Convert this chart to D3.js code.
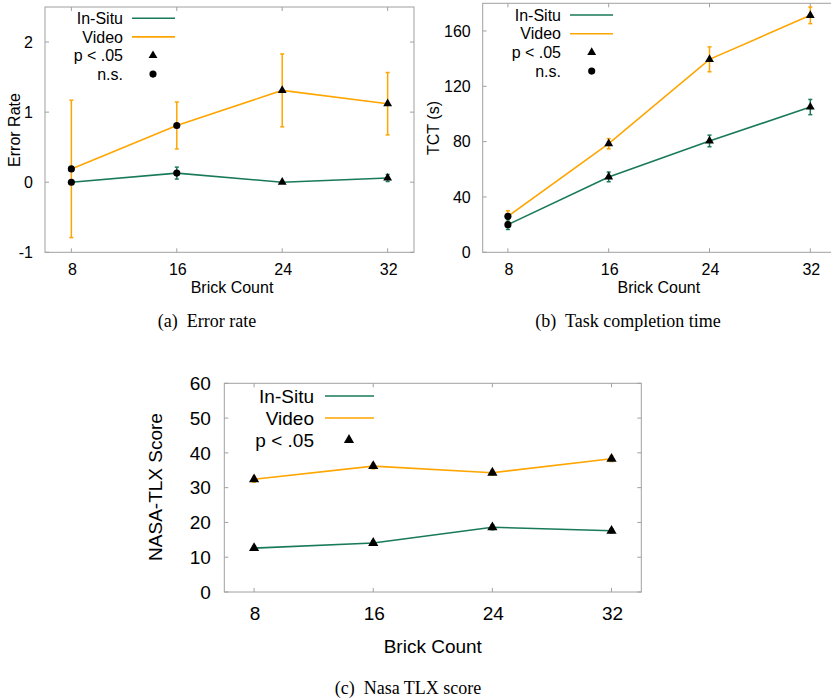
<!DOCTYPE html>
<html>
<head>
<meta charset="utf-8">
<script src="https://cdn.jsdelivr.net/npm/d3@7"></script>
<style>
  body { margin: 0; background: #fff; }
  text { font-family: "Liberation Sans", Arial, sans-serif; fill: #000; }
  .caption { font-family: "Liberation Serif", "Times New Roman", serif; white-space: pre; }
</style>
</head>
<body>
<script>
var width = 831, height = 699;

var GREEN = '#197a58', ORANGE = '#ffa500', FRAME = '#a0a0a0';

// shared x values
var brickCounts = [8, 16, 24, 32];

// (a) error rate
var errInSitu = [0, 0.13, 0, 0.06];
var errInSituSd = [0, 0.085, 0, 0.05];
var errVideo = [0.19, 0.81, 1.31, 1.12];
var errVideoSd = [0.98, 0.335, 0.52, 0.445];
var errSig = ['ns', 'ns', 'p', 'p'];
var errTicks = [-1, 0, 1, 2];

// (b) task completion time
var tctInSitu = [20, 54.5, 80.5, 105];
var tctInSituSd = [3.5, 3.5, 4.2, 5.5];
var tctVideo = [26, 78.5, 139.5, 171.3];
var tctVideoSd = [4, 3.7, 9, 6];
var tctSig = ['ns', 'p', 'p', 'p'];
var tctTicks = [0, 40, 80, 120, 160];

// (c) nasa tlx
var tlxInSitu = [12.6, 14.1, 18.6, 17.6];
var tlxInSituSd = [0.6, 0.6, 0.7, 0.6];
var tlxVideo = [32.4, 36.2, 34.3, 38.3];
var tlxVideoSd = [0.8, 0.8, 0.7, 0.8];
var tlxSig = ['p', 'p', 'p', 'p'];
var tlxTicks = [0, 10, 20, 30, 40, 50, 60];

var svg = d3.select('body').append('svg')
    .attr('width', width).attr('height', height);
svg.append('rect').attr('width', width).attr('height', height).attr('fill', '#fff');

function rows(vals, sds, sig) {
    return brickCounts.map(function (b, i) { return { x: b, y: vals[i], sd: sds[i], sig: sig[i] }; });
}

function drawPanel(p) {
    var g = svg.append('g');
    var x = d3.scaleLinear().domain([6, 34]).range([p.left, p.right]);
    var y = d3.scaleLinear().domain(p.yDomain).range([p.bottom, p.top]);
    var fs = p.fontSize;

    // frame + mirrored ticks
    g.append('rect')
        .attr('x', p.left).attr('y', p.top)
        .attr('width', p.right - p.left).attr('height', p.bottom - p.top)
        .attr('fill', 'none').attr('stroke', FRAME).attr('stroke-width', 1);

    var tk = 4;
    p.yTicks.forEach(function (t) {
        g.append('line').attr('x1', p.left).attr('x2', p.left + tk)
            .attr('y1', y(t)).attr('y2', y(t)).attr('stroke', FRAME);
        g.append('line').attr('x1', p.right).attr('x2', p.right - tk)
            .attr('y1', y(t)).attr('y2', y(t)).attr('stroke', FRAME);
        g.append('text').attr('x', p.left - p.labelGap).attr('y', y(t))
            .attr('dy', '0.35em').attr('text-anchor', 'end')
            .attr('font-size', fs).text(t);
    });
    brickCounts.forEach(function (t) {
        g.append('line').attr('x1', x(t)).attr('x2', x(t))
            .attr('y1', p.bottom).attr('y2', p.bottom - tk).attr('stroke', FRAME);
        g.append('line').attr('x1', x(t)).attr('x2', x(t))
            .attr('y1', p.top).attr('y2', p.top + tk).attr('stroke', FRAME);
        g.append('text').attr('x', x(t) + 1).attr('y', p.xTickY)
            .attr('dy', '0.35em').attr('text-anchor', 'middle')
            .attr('font-size', fs).text(t);
    });

    g.append('text').attr('x', (p.left + Math.min(p.right, width)) / 2 + p.xLabelShift)
        .attr('y', p.xLabelY).attr('dy', '0.35em').attr('text-anchor', 'middle')
        .attr('font-size', fs).text('Brick Count');

    g.append('text')
        .attr('transform', 'translate(' + p.yLabelX + ',' + p.yLabelY + ') rotate(-90)')
        .attr('dy', '0.35em').attr('text-anchor', 'middle')
        .attr('font-size', fs).text(p.yLabel);

    g.append('text').attr('class', 'caption')
        .attr('x', p.captionX).attr('y', p.captionY).attr('dy', '0.35em')
        .attr('text-anchor', 'middle').attr('font-size', 18).text(p.caption);

    var line = d3.line().x(function (d) { return x(d.x); }).y(function (d) { return y(d.y); });

    p.series.forEach(function (s) {
        var eb = g.append('g').attr('stroke', s.color).attr('stroke-width', 1.5);
        s.data.forEach(function (d) {
            if (!d.sd) return;
            eb.append('line').attr('x1', x(d.x)).attr('x2', x(d.x))
                .attr('y1', y(d.y - d.sd)).attr('y2', y(d.y + d.sd));
            [d.y - d.sd, d.y + d.sd].forEach(function (v) {
                eb.append('line').attr('x1', x(d.x) - 2).attr('x2', x(d.x) + 2)
                    .attr('y1', y(v)).attr('y2', y(v));
            });
        });
        g.append('path').datum(s.data).attr('d', line)
            .attr('fill', 'none').attr('stroke', s.color).attr('stroke-width', 1.6);
    });

    var tri = d3.symbol().type(d3.symbolTriangle).size(p.triSize);
    var dot = d3.symbol().type(d3.symbolCircle).size(p.dotSize);
    p.series.forEach(function (s) {
        g.selectAll(null).data(s.data).enter().append('path')
            .attr('d', function (d) { return d.sig === 'p' ? tri() : dot(); })
            .attr('transform', function (d) { return 'translate(' + x(d.x) + ',' + y(d.y) + ')'; })
            .attr('fill', '#000');
    });

    // legend
    var L = p.legend;
    var items = [
        { label: 'In-Situ', color: GREEN },
        { label: 'Video', color: ORANGE },
        { label: 'p < .05', mark: 'p' },
        { label: 'n.s.', mark: 'ns' }
    ].slice(0, p.legendRows);
    items.forEach(function (it, i) {
        var ly = L.y + i * L.step;
        g.append('text').attr('x', L.textRight).attr('y', ly).attr('dy', '0.35em')
            .attr('text-anchor', 'end').attr('font-size', fs).text(it.label);
        if (it.color) {
            g.append('line').attr('x1', L.lineX1).attr('x2', L.lineX2)
                .attr('y1', ly).attr('y2', ly)
                .attr('stroke', it.color).attr('stroke-width', 1.6);
        } else {
            g.append('path').attr('d', it.mark === 'p' ? tri() : dot())
                .attr('transform', 'translate(' + L.markX + ',' + ly + ')').attr('fill', '#000');
        }
    });
}

drawPanel({
    left: 45, right: 414, top: 7, bottom: 252.3,
    yDomain: [-1, 2.5], yTicks: errTicks, fontSize: 16, labelGap: 12,
    xTickY: 269.5, xLabelY: 287, xLabelShift: 2.5,
    yLabel: 'Error Rate', yLabelX: 14, yLabelY: 130,
    caption: '(a)  Error rate', captionX: 207, captionY: 321,
    triSize: 34, dotSize: 40,
    series: [
        { color: ORANGE, data: rows(errVideo, errVideoSd, errSig) },
        { color: GREEN, data: rows(errInSitu, errInSituSd, errSig) }
    ],
    legendRows: 4,
    legend: { y: 18.3, step: 18.6, textRight: 123, lineX1: 132, lineX2: 175, markX: 153 }
});

drawPanel({
    left: 482.7, right: 835.5, top: 3.3, bottom: 252.3,
    yDomain: [0, 180], yTicks: tctTicks, fontSize: 16, labelGap: 12,
    xTickY: 269.5, xLabelY: 287, xLabelShift: 2,
    yLabel: 'TCT (s)', yLabelX: 433, yLabelY: 128,
    caption: '(b)  Task completion time', captionX: 628, captionY: 321,
    triSize: 34, dotSize: 40,
    series: [
        { color: ORANGE, data: rows(tctVideo, tctVideoSd, tctSig) },
        { color: GREEN, data: rows(tctInSitu, tctInSituSd, tctSig) }
    ],
    legendRows: 4,
    legend: { y: 15, step: 18.7, textRight: 561, lineX1: 570, lineX2: 613, markX: 591.7 }
});

drawPanel({
    left: 224.3, right: 641.3, top: 383.3, bottom: 592,
    yDomain: [0, 60], yTicks: tlxTicks, fontSize: 19, labelGap: 13.5,
    xTickY: 613.5, xLabelY: 646, xLabelShift: 0,
    yLabel: 'NASA-TLX Score', yLabelX: 155, yLabelY: 487,
    caption: '(c)  Nasa TLX score', captionX: 408, captionY: 688,
    triSize: 45, dotSize: 40,
    series: [
        { color: ORANGE, data: rows(tlxVideo, tlxVideoSd, tlxSig) },
        { color: GREEN, data: rows(tlxInSitu, tlxInSituSd, tlxSig) }
    ],
    legendRows: 3,
    legend: { y: 396, step: 22, textRight: 314, lineX1: 325, lineX2: 374, markX: 349 }
});
</script>
</body>
</html>
